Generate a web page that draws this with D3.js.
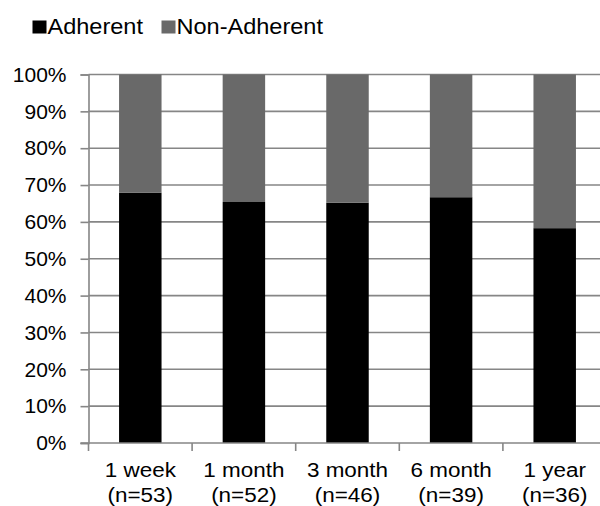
<!DOCTYPE html>
<html>
<head>
<meta charset="utf-8">
<script src="https://cdn.jsdelivr.net/npm/d3@7"></script>
<style>
  html, body { margin: 0; padding: 0; background: #fff; }
  svg { display: block; font-family: "Liberation Sans", Arial, sans-serif; }
</style>
</head>
<body>
<svg id="chart" width="600" height="506"></svg>
<script>
// Follow-up points and sample sizes
const periods = ["1 week", "1 month", "3 month", "6 month", "1 year"];
const sampleSizes = [53, 52, 46, 39, 36];
// Share of patients (%) in each group
const adherent = [67.9, 65.4, 65.2, 66.7, 58.3];
const nonAdherent = [32.1, 34.6, 34.8, 33.3, 41.7];
const seriesNames = ["Adherent", "Non-Adherent"];
const seriesColors = ["#000000", "#696969"];
const yTicks = [0, 10, 20, 30, 40, 50, 60, 70, 80, 90, 100];

const svg = d3.select("#chart");
const margin = { left: 88.5, top: 74.5, bottom: 63 };
const plotW = 518; // five bands, the last one running past the right edge
const plotH = 506 - margin.top - margin.bottom;
const stretch = 1.07; // slightly wide lettering

const x = d3.scaleBand().domain(periods).range([0, plotW]).paddingInner(0.59).paddingOuter(0.295);
const y = d3.scaleLinear().domain([0, 100]).range([plotH, 0]);

const rows = periods.map((p, i) => ({ period: p, Adherent: adherent[i], "Non-Adherent": nonAdherent[i] }));
const stacked = d3.stack().keys(seriesNames)(rows);

const g = svg.append("g").attr("transform", `translate(${margin.left},${margin.top})`);

// Horizontal gridlines
g.append("g").selectAll("line").data(yTicks.filter(t => t > 0)).join("line")
  .attr("x1", 0).attr("x2", plotW)
  .attr("y1", d => y(d)).attr("y2", d => y(d))
  .attr("stroke", "#868686").attr("stroke-width", 1.6);

// Stacked bars
g.append("g").selectAll("g").data(stacked).join("g")
  .attr("fill", (d, i) => seriesColors[i])
  .selectAll("rect").data(d => d).join("rect")
  .attr("x", d => x(d.data.period))
  .attr("width", x.bandwidth())
  .attr("y", d => y(d[1]))
  .attr("height", d => y(d[0]) - y(d[1]));

// Y axis
const yAxis = g.append("g").call(
  d3.axisLeft(y).tickValues(yTicks).tickFormat(d => d + "%").tickSizeOuter(0).tickSize(8).tickPadding(14)
);
yAxis.select(".domain").attr("stroke", "#868686").attr("stroke-width", 1.6);
yAxis.selectAll(".tick line").attr("stroke", "#868686").attr("stroke-width", 1.6);
yAxis.selectAll(".tick text").attr("font-size", 21).attr("fill", "#000").attr("font-family", "Liberation Sans, Arial, sans-serif");

// X axis: tick marks sit on band boundaries
const xAxisG = g.append("g").attr("transform", `translate(0,${plotH})`);
xAxisG.append("line").attr("x1", -8).attr("x2", plotW)
  .attr("stroke", "#868686").attr("stroke-width", 1.6);
const step = x.step();
xAxisG.selectAll("line.tk").data(d3.range(periods.length + 1)).join("line")
  .attr("class", "tk")
  .attr("x1", d => d * step).attr("x2", d => d * step)
  .attr("y1", 0).attr("y2", 8)
  .attr("stroke", "#868686").attr("stroke-width", 1.6);

const lbl = xAxisG.selectAll("g.lbl").data(periods).join("g")
  .attr("class", "lbl")
  .attr("transform", d => `translate(${x(d) + x.bandwidth() / 2},0) scale(${stretch},1)`);
lbl.append("text").attr("text-anchor", "middle").attr("font-size", 21).attr("fill", "#000")
  .attr("y", 34.5).text(d => d);
lbl.append("text").attr("text-anchor", "middle").attr("font-size", 21).attr("fill", "#000")
  .attr("y", 59.5).text((d, i) => `(n=${sampleSizes[i]})`);

// Legend
const legend = svg.append("g").attr("transform", "translate(32.5,33.5)");
const item = legend.selectAll("g").data(seriesNames).join("g")
  .attr("transform", (d, i) => `translate(${i === 0 ? 0 : 129},0)`);
item.append("rect").attr("x", 0).attr("y", -13).attr("width", 14).attr("height", 13)
  .attr("fill", (d, i) => seriesColors[i]);
item.append("text").attr("transform", `translate(15,0) scale(${stretch},1)`)
  .attr("font-size", 22).attr("fill", "#000").text(d => d);
</script>
</body>
</html>
